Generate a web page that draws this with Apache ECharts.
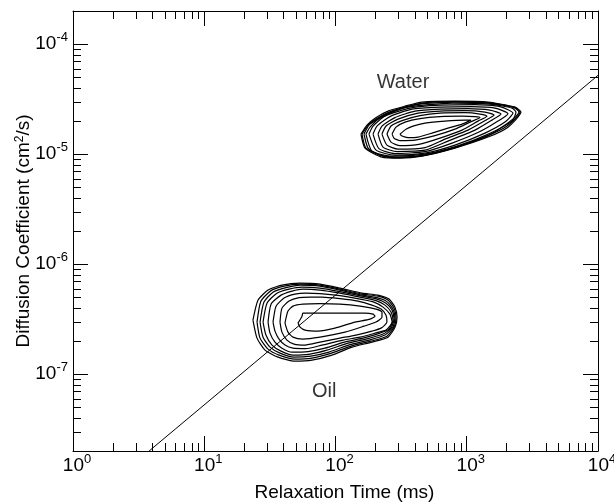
<!DOCTYPE html>
<html><head><meta charset="utf-8">
<script src="https://cdn.jsdelivr.net/npm/echarts@6/dist/echarts.min.js"></script>
<style>html,body{margin:0;padding:0;background:#fff}#c{width:614px;height:502px}</style>
</head><body><div id="c"></div>
<script>
const FF = '"Liberation Sans", Arial, sans-serif';
// axis ranges
const xRange = [1, 1e4];        // Relaxation Time (ms)
const yRange = [2e-8, 2e-4];    // Diffusion Coefficient (cm^2/s)
const minorMultipliers = [2, 3, 4, 5, 6, 7, 8, 9];
const xName = 'Relaxation Time (ms)';
const yName = 'Diffusion Coefficient (cm{s|2}/s)';
// diagonal reference line endpoints [T, D]
const diagonalLine = [[3.8, 2e-8], [1e4, 5.2e-5]];
// annotation labels
const labelNames = ['Water', 'Oil'];
const labelT = [327, 82];
const labelD = [4.5e-5, 7.0e-8];

// contour rings, points as [log10 T(ms), log10 D(cm2/s)], outermost first
const waterContoursLog = [
 [[2.194,-4.818],[2.240,-4.736],[2.301,-4.673],[2.400,-4.609],[2.530,-4.564],[2.659,-4.527],[2.910,-4.518],[3.162,-4.527],[3.368,-4.573],[3.413,-4.618],[3.314,-4.755],[3.162,-4.845],[2.910,-4.945],[2.659,-5.018],[2.491,-5.036],[2.354,-5.027],[2.225,-4.945]],
 [[2.202,-4.818],[2.248,-4.736],[2.309,-4.682],[2.408,-4.618],[2.530,-4.573],[2.659,-4.536],[2.910,-4.523],[3.162,-4.532],[3.360,-4.573],[3.406,-4.618],[3.307,-4.745],[3.154,-4.836],[2.910,-4.941],[2.667,-5.014],[2.491,-5.032],[2.362,-5.018],[2.232,-4.945]],
 [[2.217,-4.818],[2.255,-4.736],[2.324,-4.682],[2.415,-4.627],[2.537,-4.573],[2.667,-4.541],[2.910,-4.527],[3.162,-4.536],[3.360,-4.577],[3.398,-4.618],[3.314,-4.718],[3.162,-4.832],[2.918,-4.936],[2.674,-5.009],[2.476,-5.027],[2.339,-5.009],[2.248,-4.945]],
 [[2.232,-4.818],[2.263,-4.755],[2.354,-4.655],[2.530,-4.577],[2.888,-4.536],[3.177,-4.545],[3.345,-4.582],[3.375,-4.618],[3.345,-4.700],[3.147,-4.827],[2.926,-4.927],[2.682,-5.000],[2.431,-5.018],[2.278,-4.973]],
 [[2.255,-4.818],[2.286,-4.745],[2.377,-4.655],[2.568,-4.582],[2.796,-4.555],[3.063,-4.550],[3.253,-4.568],[3.352,-4.627],[3.291,-4.709],[3.139,-4.809],[2.910,-4.918],[2.682,-4.991],[2.453,-5.009],[2.309,-4.964]],
 [[2.286,-4.818],[2.316,-4.745],[2.415,-4.659],[2.583,-4.591],[2.796,-4.573],[3.040,-4.568],[3.215,-4.582],[3.314,-4.632],[3.238,-4.700],[3.101,-4.795],[2.888,-4.900],[2.682,-4.977],[2.453,-4.995],[2.331,-4.950]],
 [[2.324,-4.818],[2.354,-4.745],[2.453,-4.668],[2.606,-4.609],[2.796,-4.591],[3.010,-4.586],[3.177,-4.600],[3.261,-4.636],[3.192,-4.691],[3.063,-4.782],[2.857,-4.882],[2.682,-4.964],[2.469,-4.977],[2.362,-4.936]],
 [[2.354,-4.818],[2.385,-4.745],[2.476,-4.682],[2.629,-4.627],[2.796,-4.609],[2.987,-4.605],[3.139,-4.618],[3.208,-4.645],[3.147,-4.691],[3.010,-4.782],[2.834,-4.864],[2.682,-4.941],[2.476,-4.955],[2.392,-4.918]],
 [[2.392,-4.818],[2.423,-4.745],[2.507,-4.695],[2.644,-4.650],[2.796,-4.627],[2.987,-4.623],[3.101,-4.636],[3.154,-4.655],[3.086,-4.700],[2.964,-4.782],[2.796,-4.855],[2.644,-4.909],[2.491,-4.923],[2.423,-4.891]],
 [[2.431,-4.818],[2.461,-4.755],[2.530,-4.709],[2.644,-4.677],[2.796,-4.659],[2.964,-4.655],[3.063,-4.659],[3.101,-4.668],[3.025,-4.709],[2.910,-4.773],[2.758,-4.832],[2.606,-4.873],[2.491,-4.877],[2.446,-4.855]],
 [[2.491,-4.818],[2.537,-4.773],[2.590,-4.745],[2.682,-4.718],[2.834,-4.700],[2.987,-4.691],[3.032,-4.691],[2.964,-4.727],[2.857,-4.764],[2.735,-4.809],[2.629,-4.845],[2.552,-4.850],[2.507,-4.836]]
];
const oilContoursLog = [
 [[1.371,-6.509],[1.410,-6.327],[1.486,-6.236],[1.592,-6.191],[1.730,-6.173],[1.882,-6.182],[2.034,-6.218],[2.202,-6.264],[2.324,-6.282],[2.408,-6.318],[2.453,-6.391],[2.469,-6.482],[2.453,-6.573],[2.400,-6.664],[2.278,-6.709],[2.126,-6.755],[1.973,-6.827],[1.821,-6.873],[1.691,-6.882],[1.562,-6.845],[1.463,-6.782],[1.402,-6.673]],
 [[1.402,-6.527],[1.432,-6.336],[1.509,-6.241],[1.608,-6.200],[1.730,-6.182],[1.882,-6.191],[2.034,-6.227],[2.202,-6.273],[2.324,-6.291],[2.400,-6.327],[2.446,-6.400],[2.461,-6.491],[2.446,-6.573],[2.392,-6.655],[2.270,-6.700],[2.118,-6.745],[1.958,-6.814],[1.821,-6.855],[1.691,-6.864],[1.570,-6.827],[1.486,-6.773],[1.425,-6.673]],
 [[1.425,-6.527],[1.455,-6.345],[1.524,-6.255],[1.623,-6.214],[1.730,-6.191],[1.882,-6.200],[2.034,-6.236],[2.202,-6.282],[2.316,-6.305],[2.392,-6.341],[2.438,-6.409],[2.453,-6.491],[2.438,-6.573],[2.377,-6.645],[2.255,-6.691],[2.110,-6.732],[1.950,-6.800],[1.813,-6.836],[1.684,-6.845],[1.577,-6.809],[1.501,-6.755],[1.448,-6.664]],
 [[1.448,-6.527],[1.478,-6.355],[1.554,-6.264],[1.646,-6.227],[1.745,-6.209],[1.882,-6.218],[2.034,-6.250],[2.202,-6.291],[2.316,-6.318],[2.385,-6.355],[2.431,-6.418],[2.446,-6.500],[2.423,-6.582],[2.362,-6.636],[2.232,-6.682],[2.095,-6.718],[1.935,-6.782],[1.806,-6.818],[1.676,-6.827],[1.585,-6.791],[1.516,-6.736],[1.470,-6.645]],
 [[1.486,-6.527],[1.509,-6.364],[1.585,-6.282],[1.669,-6.245],[1.752,-6.227],[1.882,-6.236],[2.034,-6.264],[2.187,-6.300],[2.309,-6.332],[2.377,-6.373],[2.423,-6.436],[2.438,-6.509],[2.408,-6.591],[2.339,-6.627],[2.210,-6.673],[2.080,-6.705],[1.920,-6.764],[1.790,-6.795],[1.669,-6.800],[1.592,-6.764],[1.539,-6.709],[1.501,-6.627]],
 [[1.524,-6.527],[1.547,-6.382],[1.608,-6.309],[1.691,-6.273],[1.775,-6.264],[1.882,-6.268],[2.034,-6.286],[2.187,-6.318],[2.293,-6.345],[2.362,-6.391],[2.415,-6.455],[2.431,-6.527],[2.385,-6.600],[2.316,-6.623],[2.187,-6.664],[2.057,-6.691],[1.897,-6.736],[1.775,-6.768],[1.676,-6.764],[1.615,-6.736],[1.570,-6.682],[1.539,-6.609]],
 [[1.577,-6.527],[1.592,-6.400],[1.646,-6.336],[1.722,-6.305],[1.806,-6.300],[1.897,-6.300],[2.034,-6.314],[2.171,-6.336],[2.278,-6.373],[2.347,-6.409],[2.385,-6.464],[2.392,-6.527],[2.347,-6.582],[2.278,-6.609],[2.156,-6.645],[2.034,-6.673],[1.882,-6.709],[1.768,-6.736],[1.684,-6.727],[1.630,-6.691],[1.592,-6.618]],
 [[1.615,-6.536],[1.638,-6.427],[1.676,-6.382],[1.752,-6.364],[1.882,-6.359],[2.034,-6.364],[2.187,-6.382],[2.309,-6.409],[2.354,-6.436],[2.354,-6.482],[2.309,-6.527],[2.217,-6.564],[2.072,-6.618],[1.882,-6.664],[1.752,-6.682],[1.676,-6.664],[1.638,-6.618]],
 [[1.714,-6.536],[1.745,-6.473],[1.752,-6.445],[1.844,-6.445],[2.034,-6.445],[2.225,-6.445],[2.286,-6.455],[2.301,-6.473],[2.263,-6.500],[2.149,-6.527],[1.996,-6.582],[1.867,-6.609],[1.768,-6.600],[1.730,-6.573]]
];

function ringData(ring) {
  return ring.concat([ring[0]]).map(p => [Math.pow(10, p[0]), Math.pow(10, p[1])]);
}
function isPow10(v) {
  const l = Math.log10(v);
  return Math.abs(l - Math.round(l)) < 1e-6;
}
function powLabel(v) {
  if (!isPow10(v)) return '';
  return '{b|10}{s|' + Math.round(Math.log10(v)) + '}';
}

// minor tick positions (2..9 within each decade)
const minorTickData = [];
for (let d = Math.log10(xRange[0]); d < Math.log10(xRange[1]); d++) {
  minorMultipliers.forEach(m => minorTickData.push([m * Math.pow(10, d), yRange[0], 0]));
}
for (let d = -8; d <= -4; d++) {
  minorMultipliers.forEach(m => {
    const v = m * Math.pow(10, d);
    if (v > yRange[0] * 1.0001 && v < yRange[1] * 0.9999) minorTickData.push([xRange[0], v, 1]);
  });
}

const black = '#000';
const xRich = {
  b: {fontSize: 19, lineHeight: 26, fontFamily: FF, color: black, padding: [0, 0, 0, 8]},
  s: {fontSize: 13, lineHeight: 11, verticalAlign: 'top', fontFamily: FF, color: black}
};
const yRich = {
  b: {fontSize: 19, lineHeight: 26, fontFamily: FF, color: black},
  s: {fontSize: 13, lineHeight: 11, verticalAlign: 'top', fontFamily: FF, color: black}
};

function mkX(pos, main) {
  return {
    type: 'log', logBase: 10, min: xRange[0], max: xRange[1], position: pos,
    name: main ? xName : '', nameLocation: 'middle', nameGap: 32, nameMoveOverlap: false,
    nameTextStyle: {fontSize: 19, fontFamily: FF, color: black, padding: [0, 0, 0, 18]},
    axisLine: {show: true, onZero: false, lineStyle: {color: black, width: 1}},
    axisTick: {show: true, inside: true, length: 15, lineStyle: {color: black, width: 1}},
    axisLabel: {show: main, formatter: powLabel, rich: xRich, margin: 2, color: black},
    splitLine: {show: false}, minorTick: {show: false}
  };
}
function mkY(pos, main) {
  return {
    type: 'log', logBase: 10, min: yRange[0], max: yRange[1], position: pos,
    name: main ? yName : '', nameLocation: 'middle', nameGap: 40, nameMoveOverlap: false,
    nameTextStyle: {fontSize: 19, fontFamily: FF, color: black,
      rich: {s: {fontSize: 12, verticalAlign: 'top', lineHeight: 12, fontFamily: FF, color: black}}},
    axisLine: {show: true, onZero: false, lineStyle: {color: black, width: 1}},
    axisTick: {show: true, inside: true, length: 15, lineStyle: {color: black, width: 1}},
    axisLabel: {show: main, formatter: powLabel, rich: yRich, margin: 5, color: black},
    splitLine: {show: false}, minorTick: {show: false}
  };
}

const series = [];
waterContoursLog.concat(oilContoursLog).forEach(ring => {
  series.push({
    type: 'line', data: ringData(ring), symbol: 'none', smooth: 0.2,
    lineStyle: {color: black, width: 1.2}, silent: true, xAxisIndex: 0, yAxisIndex: 0
  });
});
series.push({
  type: 'line', data: diagonalLine, symbol: 'none',
  lineStyle: {color: black, width: 1}, silent: true, xAxisIndex: 0, yAxisIndex: 0
});
series.push({
  type: 'scatter', symbolSize: 0, silent: true, xAxisIndex: 0, yAxisIndex: 0,
  data: labelNames.map((n, i) => ({name: n, value: [labelT[i], labelD[i]]})),
  label: {show: true, position: 'inside', formatter: p => p.name, fontSize: 20, fontFamily: FF, color: black}
});
series.push({
  type: 'custom', silent: true, clip: false, xAxisIndex: 0, yAxisIndex: 0,
  data: minorTickData,
  renderItem: function (params, api) {
    const cs = params.coordSys;
    const kind = api.value(2);
    const p = api.coord([api.value(0), api.value(1)]);
    const L = 8;
    const st = {stroke: black, lineWidth: 1};
    if (kind === 0) {
      const x = Math.round(p[0]) + 0.5;
      return {type: 'group', children: [
        {type: 'line', shape: {x1: x, y1: cs.y + cs.height, x2: x, y2: cs.y + cs.height - L}, style: st},
        {type: 'line', shape: {x1: x, y1: cs.y, x2: x, y2: cs.y + L}, style: st}
      ]};
    }
    const y = Math.round(p[1]) + 0.5;
    return {type: 'group', children: [
      {type: 'line', shape: {x1: cs.x, y1: y, x2: cs.x + L, y2: y}, style: st},
      {type: 'line', shape: {x1: cs.x + cs.width, y1: y, x2: cs.x + cs.width - L, y2: y}, style: st}
    ]};
  }
});

const chart = echarts.init(document.getElementById('c'), null, {renderer: 'canvas'});
chart.setOption({
  animation: false,
  backgroundColor: '#fff',
  textStyle: {fontFamily: FF},
  grid: {left: 73, right: 16, top: 11, bottom: 51, containLabel: false, outerBoundsMode: 'none'},
  xAxis: [mkX('bottom', true), mkX('top', false)],
  yAxis: [mkY('left', true), mkY('right', false)],
  series: series
});
</script>
</body></html>
